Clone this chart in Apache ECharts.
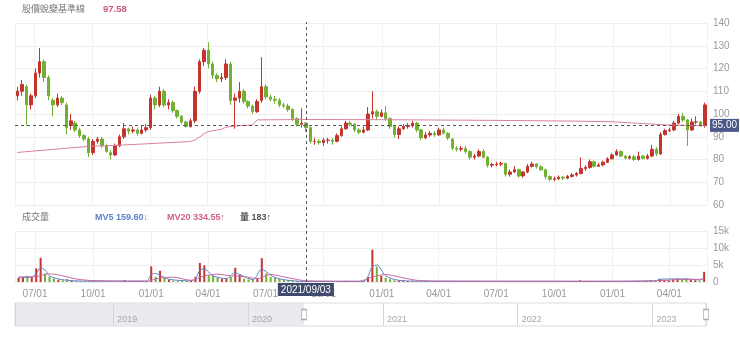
<!DOCTYPE html>
<html><head><meta charset="utf-8">
<script src="https://cdn.jsdelivr.net/npm/echarts@6/dist/echarts.min.js"></script>
<style>html,body{margin:0;padding:0;background:#fff}#c{width:740px;height:345px}</style>
</head><body><div id="c"></div>
<script>
// ---- weekly data ----
const dates = ['2020-06-05','2020-06-12','2020-06-19','2020-06-26','2020-07-03','2020-07-10','2020-07-17','2020-07-24','2020-07-31','2020-08-07','2020-08-14','2020-08-21','2020-08-28','2020-09-04','2020-09-11','2020-09-18','2020-09-25','2020-10-02','2020-10-09','2020-10-16','2020-10-23','2020-10-30','2020-11-06','2020-11-13','2020-11-20','2020-11-27','2020-12-04','2020-12-11','2020-12-18','2020-12-25',
'2021-01-01','2021-01-08','2021-01-15','2021-01-22','2021-01-29','2021-02-05','2021-02-12','2021-02-19','2021-02-26','2021-03-05','2021-03-12','2021-03-19','2021-03-26','2021-04-02','2021-04-09','2021-04-16','2021-04-23','2021-04-30','2021-05-07','2021-05-14','2021-05-21','2021-05-28','2021-06-04','2021-06-11','2021-06-18','2021-06-25','2021-07-02','2021-07-09','2021-07-16','2021-07-23','2021-07-30','2021-08-06','2021-08-13','2021-08-20','2021-08-27','2021-09-03','2021-09-10','2021-09-17','2021-09-24','2021-10-01','2021-10-08','2021-10-15','2021-10-22','2021-10-29','2021-11-05','2021-11-12','2021-11-19','2021-11-26','2021-12-03','2021-12-10','2021-12-17','2021-12-24','2021-12-31',
'2022-01-07','2022-01-14','2022-01-21','2022-01-28','2022-02-04','2022-02-11','2022-02-18','2022-02-25','2022-03-04','2022-03-11','2022-03-18','2022-03-25','2022-04-01','2022-04-08','2022-04-15','2022-04-22','2022-04-29','2022-05-06','2022-05-13','2022-05-20','2022-05-27','2022-06-03','2022-06-10','2022-06-17','2022-06-24','2022-07-01','2022-07-08','2022-07-15','2022-07-22','2022-07-29','2022-08-05','2022-08-12','2022-08-19','2022-08-26','2022-09-02','2022-09-09','2022-09-16','2022-09-23','2022-09-30','2022-10-07','2022-10-14','2022-10-21','2022-10-28','2022-11-04','2022-11-11','2022-11-18','2022-11-25','2022-12-02','2022-12-09','2022-12-16','2022-12-23','2022-12-30',
'2023-01-06','2023-01-13','2023-01-20','2023-01-27','2023-02-03','2023-02-10','2023-02-17','2023-02-24','2023-03-03','2023-03-10','2023-03-17','2023-03-24','2023-03-31','2023-04-07','2023-04-14','2023-04-21','2023-04-28','2023-05-05','2023-05-12','2023-05-19','2023-05-26'];

const open = [108,110,112,104,108,118,123,116,106,104, 107,104,95,96,93,90.5,89,83,88,89, 86,83,82,86,90,93.5,92.5,93,91.5,93,
94,107,104,110,104,105,101.5,99,96.5,94.5, 97,110,123,128,122,117,115.5,116,122,106, 107,110,105.5,103.5,101,106,112,107.5,106.5,106,
104,103.5,102,98,95.5,96,94,88,88,87.5, 88.5,88.5,88,90.5,93.5,96,95.5,93,92,93, 100,101,99,100.5,98,94.5,91,93.5,94.5,95,
96,93,89.5,90.8,91.5,90.8,93,91.5,89,85, 84.5,84.8,83.5,81,81.5,83.5,81,77.5,77.8,78, 78.3,73.5,74.5,75.5,72.8,74.5,77,78,76.8,75.5,
72.5,71.3,71.5,72.2,71.8,72.6,73.2,73.8,76,76.5, 79,77,77.6,78.8,80.3,82,83.5,81.5,80.6,81.2, 80,81.5,80.5,81.5,84.5,82.5,91,92.7,93,96,
99,97.4,93,96.5,96.5,95];
const close = [110,113,104,108,118,123,116,108,104,107, 105,94,97,93,90.5,89,83,88,89,86, 83.5,82,86,90,93.5,92.5,93,91.5,93,94,
107,104,110,104,105,101.5,99,96.5,94.5,97, 110,123,128,122,117,115.5,116,122,106,107, 110,105.5,103.5,101,105.5,112,107.5,106.5,106,104,
103.5,102,98,95.5,96,94,88,88,87.5,88.5, 88.5,88,90.5,93.5,96,95.5,93,92,93,100, 101,99,100.5,98,94.5,91,93.5,94.5,95,96,
93,89.5,90.8,91.5,90.8,93,91.5,89.5,85,84.5, 84.8,83.5,81,81.5,83.5,81,77.5,77.8,78,78.3, 73.5,74.5,75.5,72.8,74.5,77,78,76.8,75.5,72.5,
71.3,71.5,72.2,71.8,72.6,73.2,73.8,76,76.5,79, 77,77.6,78.8,80.3,82,83.5,81.5,80.6,81.2,80, 81.5,80.5,81.5,84.5,82.5,91,92.7,93,96,99,
97.4,93,96.5,96.5,95,104];
const low = [106,108,95,102,107,116,114,106,99,103, 104,91,93,92,89.5,88,81,82,87,85, 83,80,81.5,85.5,89,91,91.5,90.5,91,92,
93,102,103,103,102,100.5,98,95.5,94,94, 96,109,121,120,115.5,114,114,115,104,93.5, 105,104.5,102.5,100,100.5,105,106.5,105.5,104.5,103,
102.5,101,97,94.5,94,92,87,86.5,86.5,86, 87,86.5,87.5,90,93,94.5,92,91,91.5,92.5, 98,97.5,98.5,97,93.5,89.5,89,93,93.5,94,
92,88.5,89,90,90,90.5,91,88.5,84,83.5, 83.5,82.5,80,80,81,80.5,76.5,76.5,77,77, 72.5,72.5,74,72,72,74,76.5,76,75,71.5,
70.5,70.5,71,71,71.3,72,72.5,73.5,75,76, 76.5,76.8,77,78.5,80,81.5,81,80,80,79.3, 79.5,80,80,81,81.5,82,90.5,92,92.5,95.5,
96.5,86,92.5,95.5,94.5,94];
const high = [112,115,113,109,120,129,124,117,107,109, 108,105,100,97,94,91,90,89,90,90, 87,84,87,91,96,94,94.5,94,95,95.5,
108.5,108,112,111,106.5,106,102,99.5,97,98, 112,124,129,131.5,123,118,118,124,123,109, 114,111,106,104,106.5,125,113,108.5,108,107,
105,104.5,102.5,98.5,102.5,96.5,94.5,89.5,89,89.5, 89.5,89.5,91.5,94.5,97,97,96,94,94.5,103, 110,102,102,103.5,98.5,95,94.5,95.5,96,97,
96.5,93.5,92,92.5,92.5,94,94,92,89.5,86, 86,86,84,82.5,84.5,84.5,81.5,78.5,79,79, 78.5,75.5,77,76,75,78,79,78.5,77.5,76,
73,72.5,73,72.8,73.2,74,74.5,81,77.5,80, 79.5,78.5,79.5,81,82.8,84.5,84,82,82,82, 83.5,82,82.5,86.5,85.5,92,93.5,94,97,100,
100.5,97.8,98,99,97,105];
const volume = [1200,1500,1800,1400,4000,7100,2500,1600,1000,700, 500,900,400,300,250,300,350,250,200,220, 200,250,230,300,600,300,280,250,300,260,
4600,1500,3300,1200,700,400,300,250,300,400, 1500,5600,4900,2000,1800,1200,900,1000,1500,4200, 2200,1000,700,600,1200,7000,2500,1500,1300,1000,
600,500,400,350,300,183,250,220,200,210, 200,190,230,300,350,260,220,200,230,1500, 9500,4500,1800,1200,800,500,400,350,300,280,
260,240,230,220,210,230,200,190,300,260, 220,200,210,190,200,180,230,210,190,200, 240,210,190,200,180,190,220,200,180,210,
230,190,180,170,190,200,210,500,250,300, 220,200,230,260,300,320,280,240,230,220, 260,240,230,350,400,900,600,500,800,1000,
700,1100,600,500,400,3000];

// 股價蛻變基準線 (baseline) points
const baseline = [['2020-06-05',83.1],['2020-07-03',83.8],['2020-08-07',84.6],['2020-09-04',85.3],['2020-10-02',85.9],['2020-11-06',86.2],['2020-12-04',86.6],['2021-01-08',87.1],['2021-02-26',87.8],['2021-03-05',87.9],['2021-03-12',88.6],['2021-03-19',89.8],['2021-03-26',91.2],['2021-04-02',92.3],['2021-04-16',93.0],['2021-04-23',93.3],['2021-04-30',94.2],['2021-05-14',94.7],['2021-06-11',95.2],['2021-06-18',97.4],['2021-07-30',97.5],['2021-09-03',97.58],['2021-12-31',97.5],['2022-06-24',97.2],['2022-10-28',96.9],['2022-12-30',96.6],['2023-02-10',95.9],['2023-03-24',95.2],['2023-05-26',94.8]];
// volume moving averages
const mv5 = [['2020-06-05',1300],['2020-06-26',1500],['2020-07-03',2500],['2020-07-10',4200],['2020-07-17',3500],['2020-07-24',1800],['2020-08-07',900],['2020-08-28',400],['2020-09-25',250],['2020-12-25',250],['2021-01-01',2200],['2021-01-08',2500],['2021-01-15',2000],['2021-01-29',800],['2021-03-05',350],['2021-03-12',900],['2021-03-19',3500],['2021-03-26',3800],['2021-04-09',1800],['2021-04-30',1000],['2021-05-14',2800],['2021-05-21',2200],['2021-06-11',700],['2021-06-25',3800],['2021-07-02',3000],['2021-07-16',1300],['2021-08-06',500],['2021-09-03',160],['2021-12-03',200],['2021-12-17',4500],['2021-12-24',5000],['2022-01-07',1800],['2022-01-28',500],['2022-03-04',250],['2022-12-30',200],['2023-03-10',350],['2023-03-17',800],['2023-04-14',900],['2023-04-28',900],['2023-05-19',600],['2023-05-26',1200]];
const mv20 = [['2020-06-05',1500],['2020-07-03',1600],['2020-07-24',2400],['2020-08-14',1800],['2020-09-04',900],['2020-10-02',400],['2020-12-25',250],['2021-01-15',1200],['2021-02-05',1400],['2021-03-05',500],['2021-03-26',1800],['2021-04-16',2300],['2021-05-07',1800],['2021-05-28',1600],['2021-06-18',1000],['2021-07-09',2200],['2021-07-30',1500],['2021-08-27',500],['2021-09-03',335],['2021-11-26',220],['2021-12-17',1500],['2022-01-07',2200],['2022-01-28',1500],['2022-02-25',500],['2022-04-01',250],['2022-12-30',220],['2023-03-17',400],['2023-04-14',700],['2023-05-26',800]];

const priceTicks = [60,70,80,90,100,110,120,130,140];
const volTicks = [0,5000,10000,15000];
const crossDate = '2021-09-03';
const crossPrice = 95;

// ---- rendering ----
function ts(s){const p=s.split('-');return new Date(+p[0],+p[1]-1,+p[2]).getTime();}
const RED='#c4342d', GREEN='#72b032';
const FONT='"Liberation Sans","Noto Sans CJK TC",sans-serif';
const X_MIN=ts('2020-06-01'), X_MAX=ts('2023-05-29');
const S_MIN=ts('2018-04-10'), S_MAX=ts('2023-05-26'), S_SEL=ts('2020-06-01');

function tAxis(gi, showLabel){
  return {type:'time', gridIndex:gi, min:X_MIN, max:X_MAX, splitNumber:12,
    axisLine:{show:false}, axisTick:{show:false},
    splitLine:{show:true, lineStyle:{color:'#f1f1f1'}},
    axisLabel:{show:showLabel, formatter:'{MM}/{dd}', color:'#999', fontSize:10, margin:7, showMinLabel:false, showMaxLabel:false, fontFamily:FONT}};
}

const chart = echarts.init(document.getElementById('c'), null, {renderer:'canvas'});
const option = {
  animation:false,
  textStyle:{fontFamily:FONT},
  grid:[
    {left:15, right:33, top:23, height:182},
    {left:15, right:33, top:231, height:51},
    {left:15, right:33, top:22, height:260},
    {left:15, right:34, top:303, height:23, show:true, borderColor:'#dcdcdc', borderWidth:1, backgroundColor:'#fff'}
  ],
  xAxis:[
    tAxis(0,false), tAxis(1,true),
    {type:'time', gridIndex:2, min:X_MIN, max:X_MAX, show:false},
    {type:'time', gridIndex:3, min:S_MIN, max:S_MAX, minInterval:360*86400000, splitNumber:5, z:5,
      axisLine:{show:false}, axisTick:{show:false},
      splitLine:{show:true, lineStyle:{color:'#d6d6d6'}},
      axisLabel:{inside:true, formatter:'{yyyy}', align:'left', padding:[0,0,0,4], margin:2, color:'#a8a8a8', fontSize:9, showMinLabel:false, showMaxLabel:false}}
  ],
  yAxis:[
    {type:'value', gridIndex:0, position:'right', min:priceTicks[0], max:priceTicks[priceTicks.length-1], interval:10,
      axisLine:{show:false}, axisTick:{show:false},
      splitLine:{lineStyle:{color:'#eeeeee'}},
      axisLabel:{color:'#999', fontSize:10, margin:6}},
    {type:'value', gridIndex:1, position:'right', min:volTicks[0], max:volTicks[volTicks.length-1], interval:5000,
      axisLine:{show:false}, axisTick:{show:false},
      splitLine:{lineStyle:{color:'#eeeeee'}},
      axisLabel:{color:'#999', fontSize:10, margin:6, formatter:v=> v===0?'0':(v/1000)+'k'}},
    {type:'value', gridIndex:2, min:0, max:1, show:false},
    {type:'value', gridIndex:3, min:0, max:1, show:false}
  ],
  series:[
    {type:'candlestick', name:'K', xAxisIndex:0, yAxisIndex:0,
      data:dates.map((d,i)=>[ts(d), open[i], close[i], low[i], high[i]]),
      encode:{x:0, y:[1,2,3,4]},
      barWidth:3,
      itemStyle:{color:RED, color0:GREEN, borderColor:RED, borderColor0:GREEN, borderWidth:1},
      markLine:{silent:true, symbol:'none', animation:false,
        data:[{yAxis:crossPrice}],
        lineStyle:{type:[3,3], color:'#555', width:1},
        label:{position:'end', distance:3, formatter:crossPrice.toFixed(2), backgroundColor:'#4b5888', color:'#fff', padding:[2,2,1,2], fontSize:10, fontFamily:FONT}}
    },
    {type:'line', name:'股價蛻變基準線', xAxisIndex:0, yAxisIndex:0,
      data:baseline.map(p=>[ts(p[0]),p[1]]), symbol:'none', z:3,
      lineStyle:{color:'#d9809f', width:1}},
    {type:'bar', name:'量', xAxisIndex:1, yAxisIndex:1,
      data:dates.map((d,i)=>[ts(d), volume[i]]), barWidth:2,
      itemStyle:{color:p=> close[p.dataIndex]>=open[p.dataIndex]?RED:GREEN}},
    {type:'line', name:'MV5', xAxisIndex:1, yAxisIndex:1, data:mv5.map(p=>[ts(p[0]),p[1]]),
      symbol:'none', smooth:0.3, lineStyle:{color:'#5b82c9', width:1}},
    {type:'line', name:'MV20', xAxisIndex:1, yAxisIndex:1, data:mv20.map(p=>[ts(p[0]),p[1]]),
      symbol:'none', smooth:0.3, lineStyle:{color:'#c76a9f', width:1}},
    {type:'line', xAxisIndex:2, yAxisIndex:2, data:[], silent:true,
      markLine:{silent:true, symbol:'none', animation:false,
        data:[{xAxis:ts(crossDate)}],
        lineStyle:{type:[3,3], color:'#555', width:1},
        label:{position:'start', distance:1, formatter:crossDate.replace(/-/g,'/'), backgroundColor:'#404a6c', color:'#fff', padding:[2,3,1,3], fontSize:10, fontFamily:FONT}}},
    {type:'line', xAxisIndex:3, yAxisIndex:3, data:[], silent:true, z:1,
      markArea:{silent:true, itemStyle:{color:'rgba(225,228,234,0.75)'}, data:[[{xAxis:S_MIN},{xAxis:S_SEL}]]},
      markPoint:{silent:true, symbol:'rect', symbolSize:[5,10], label:{show:false}, z:10,
        itemStyle:{color:'#fff', borderColor:'#aaa', borderWidth:1},
        data:[{coord:[S_SEL,0.5]},{coord:[S_MAX,0.5]}]}}
  ],
  graphic:[
    {type:'text', left:22, top:5, style:{text:'股價蛻變基準線', fill:'#777', fontSize:9, fontFamily:FONT}},
    {type:'text', left:103, top:5, style:{text:'97.58', fill:'#c9567c', fontSize:9.5, fontWeight:'bold', fontFamily:FONT}},
    {type:'text', left:22, top:213, style:{text:'成交量', fill:'#777', fontSize:9, fontFamily:FONT}},
    {type:'text', left:95, top:213, style:{text:'MV5 159.60↓', fill:'#5b82c9', fontSize:9, fontWeight:'bold', fontFamily:FONT}},
    {type:'text', left:167, top:213, style:{text:'MV20 334.55↑', fill:'#cf6488', fontSize:9, fontWeight:'bold', fontFamily:FONT}},
    {type:'text', left:240, top:213, style:{text:'量 183↑', fill:'#555', fontSize:9, fontWeight:'bold', fontFamily:FONT}}
  ]
};
chart.setOption(option);
</script>
</body></html>
